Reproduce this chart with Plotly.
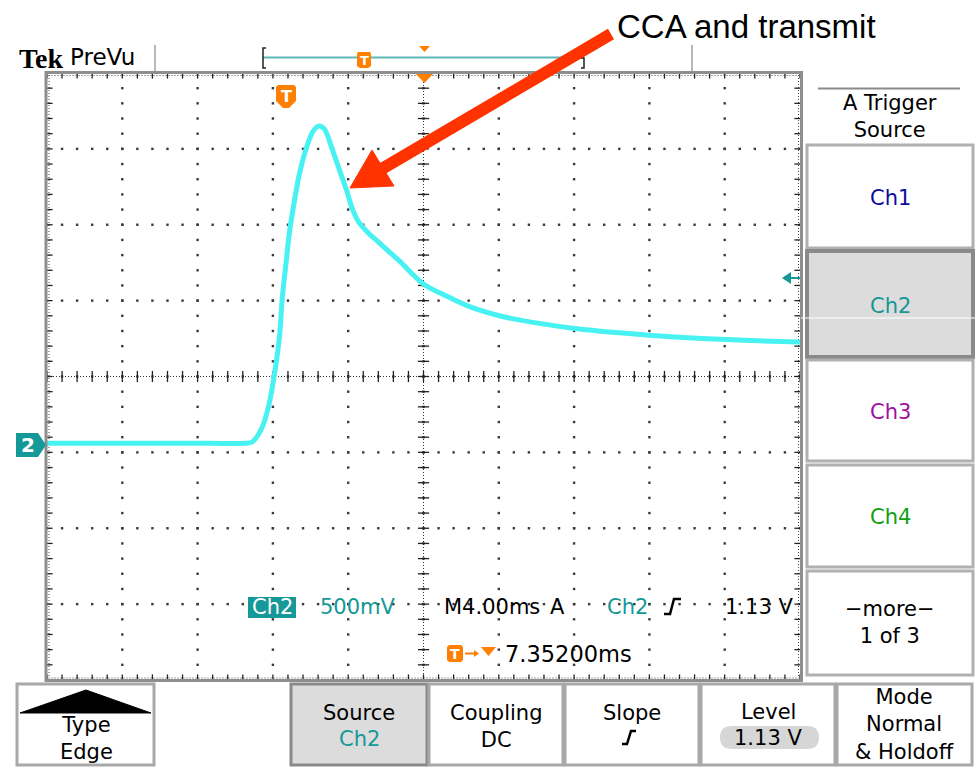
import plotly.graph_objects as go

W, H = 978, 770

# ---- Scope settings ----
TIME_PER_DIV = 4.0      # ms / div  (M4.00ms)
VOLTS_PER_DIV = 0.5     # V / div   (Ch2 500mV)
H_DIVS = 10
V_DIVS = 8
TRIG_DELAY_MS = 7.352   # trigger -> screen centre
CH2_OFFSET_DIV = -0.9   # ground marker position
TRIG_LEVEL_V = 1.13

# ---- Ch2 waveform: time after trigger (ms) and volts ----
time_ms = [-12.65, -8.0, -4.0, -2.2, -1.73, -1.20, -0.83, -0.56, -0.30, -0.14, 0.07,
           0.23, 0.50, 0.77, 1.14, 1.46, 1.77, 2.09, 2.47, 2.89, 3.26, 3.53, 3.85,
           4.38, 5.01, 6.08, 7.35, 8.57, 9.80, 11.39, 13.51, 15.37, 17.39, 19.36,
           21.64, 23.45, 25.20, 27.35]
ch2_volts = [0.01, 0.01, 0.01, 0.01, 0.02, 0.12, 0.28, 0.47, 0.71, 0.98, 1.22,
             1.40, 1.61, 1.79, 1.96, 2.06, 2.10, 2.08, 1.96, 1.81, 1.68, 1.57, 1.48,
             1.40, 1.33, 1.21, 1.06, 0.98, 0.91, 0.85, 0.80, 0.767, 0.742, 0.722,
             0.704, 0.693, 0.685, 0.678]

# ---- Texts ----
header_brand = "Tek"
header_mode = "PreVu"
annotation_text = "CCA and transmit"
menu_title = "A Trigger<br>Source"
menu_items = ["Ch1", "Ch2", "Ch3", "Ch4", "−more−<br>1 of 3"]
menu_colors = ["#0A0AA0", "#149696", "#A010A0", "#10A010", "#000000"]
bottom_buttons = ["Type<br>Edge", "Source", "Coupling<br>DC", "Slope", "Level", "Mode<br>Normal<br>& Holdoff"]

TEAL = "#149898"
ORANGE = "#FF7F00"
TRACE = "#48F2F2"
FONT = "DejaVu Sans"


def X(p):
    return p / W


def Y(p):
    return 1 - p / H


def path(points, close=True):
    s = "M " + " L ".join(f"{X(a):.5f},{Y(b):.5f}" for a, b in points)
    return s + (" Z" if close else "")


# axis ranges from scope settings
x0 = TRIG_DELAY_MS - H_DIVS / 2 * TIME_PER_DIV
x1 = TRIG_DELAY_MS + H_DIVS / 2 * TIME_PER_DIV
vc = -CH2_OFFSET_DIV * VOLTS_PER_DIV
y0 = vc - V_DIVS / 2 * VOLTS_PER_DIV
y1 = vc + V_DIVS / 2 * VOLTS_PER_DIV
xc = TRIG_DELAY_MS

fig = go.Figure()

# graticule dots (every 1/5 division on each major line)
gx, gy = [], []
for i in range(1, H_DIVS):
    for j in range(V_DIVS * 5 + 1):
        gx.append(x0 + i * TIME_PER_DIV)
        gy.append(y0 + j * VOLTS_PER_DIV / 5)
for j in range(1, V_DIVS):
    for i in range(H_DIVS * 5 + 1):
        gx.append(x0 + i * TIME_PER_DIV / 5)
        gy.append(y0 + j * VOLTS_PER_DIV)
fig.add_trace(go.Scatter(x=gx, y=gy, mode="markers", hoverinfo="skip",
                         marker=dict(symbol="square", size=2.4, color="#3a3a3a", line=dict(width=0))))

# centre-line & edge ticks
hx = [x0 + i * TIME_PER_DIV / 5 for i in range(H_DIVS * 5 + 1)]
vy = [y0 + j * VOLTS_PER_DIV / 5 for j in range(V_DIVS * 5 + 1)]
fig.add_trace(go.Scatter(x=hx + hx + hx, y=[vc] * len(hx) + [y1] * len(hx) + [y0] * len(hx),
                         mode="markers", hoverinfo="skip",
                         marker=dict(symbol="line-ns", size=8, line=dict(width=1.3, color="#222"))))
fig.add_trace(go.Scatter(x=[xc] * len(vy) + [x0] * len(vy) + [x1] * len(vy), y=vy + vy + vy,
                         mode="markers", hoverinfo="skip",
                         marker=dict(symbol="line-ew", size=8, line=dict(width=1.3, color="#222"))))

# waveform
fig.add_trace(go.Scatter(x=time_ms, y=ch2_volts, mode="lines", hoverinfo="skip",
                         line=dict(color=TRACE, width=5, shape="spline", smoothing=0.9)))

shapes = []
# dotted centre lines and inner edge dotted lines
shapes.append(dict(type="line", xref="x", yref="y", x0=x0, x1=x1, y0=vc, y1=vc, layer="below",
                   line=dict(color="#333", width=1, dash="1px,2px")))
shapes.append(dict(type="line", xref="x", yref="y", x0=xc, x1=xc, y0=y0, y1=y1, layer="below",
                   line=dict(color="#333", width=1, dash="1px,2px")))
for (a, b, c, d) in [(48.5, 75.5, 799, 75.5), (48.5, 678, 799, 678), (49, 75, 49, 678), (798.5, 75, 798.5, 678)]:
    shapes.append(dict(type="line", xref="paper", yref="paper", x0=X(a), y0=Y(b), x1=X(c), y1=Y(d),
                       layer="below", line=dict(color="#444", width=1, dash="1px,2px")))
# graticule frame
shapes.append(dict(type="rect", xref="paper", yref="paper", x0=X(46), x1=X(801.5), y0=Y(72.5), y1=Y(680.5),
                   layer="above", line=dict(color="#8E8E8E", width=3)))

# header separators and record view bar
for sx in (155, 692):
    shapes.append(dict(type="line", xref="paper", yref="paper", x0=X(sx), x1=X(sx), y0=Y(45), y1=Y(71),
                       line=dict(color="#A0A0A0", width=1.5)))
shapes.append(dict(type="line", xref="paper", yref="paper", x0=X(263), x1=X(584), y0=Y(57.5), y1=Y(57.5),
                   line=dict(color="#5CB8B8", width=2)))
shapes.append(dict(type="path", xref="paper", yref="paper", path=path([(266, 48), (263, 48), (263, 68), (266, 68)], close=False),
                   line=dict(color="#222", width=1.5)))
shapes.append(dict(type="path", xref="paper", yref="paper", path=path([(581, 58), (584, 58), (584, 68), (581, 68)], close=False),
                   line=dict(color="#222", width=1.5)))
# record bar T marker
shapes.append(dict(type="path", xref="paper", yref="paper",
                   path=path([(358, 52), (370, 52), (371, 54), (371, 66), (368, 68), (360, 68), (357, 66), (357, 54)]),
                   fillcolor=ORANGE, line=dict(width=0)))
# orange triangles (header and graticule top)
shapes.append(dict(type="path", xref="paper", yref="paper", path=path([(419, 46), (430, 46), (424.5, 52)]),
                   fillcolor=ORANGE, line=dict(width=0)))
shapes.append(dict(type="path", xref="paper", yref="paper", path=path([(416, 74), (433, 74), (424.5, 83)]),
                   fillcolor=ORANGE, line=dict(width=0)))
# trigger position T marker
shapes.append(dict(type="path", xref="paper", yref="paper",
                   path=path([(278, 85), (294, 85), (296, 87), (296, 101), (289, 108), (283, 108), (276, 101), (276, 87)]),
                   fillcolor=ORANGE, line=dict(width=0)))
# ground marker "2"
shapes.append(dict(type="path", xref="paper", yref="paper",
                   path=path([(16, 433), (38, 433), (46, 445), (38, 457), (16, 457)]),
                   fillcolor=TEAL, line=dict(width=0)))
# trigger level arrow (right)
shapes.append(dict(type="path", xref="paper", yref="paper", path=path([(782, 278), (791, 272), (791, 284)]),
                   fillcolor=TEAL, line=dict(width=0)))
shapes.append(dict(type="line", xref="paper", yref="paper", x0=X(788), x1=X(800), y0=Y(278), y1=Y(278),
                   line=dict(color=TEAL, width=2)))
# Ch2 readout box
shapes.append(dict(type="rect", xref="paper", yref="paper", x0=X(248), x1=X(296), y0=Y(597), y1=Y(618),
                   fillcolor=TEAL, line=dict(width=0)))
# slope glyph in readout
shapes.append(dict(type="path", xref="paper", yref="paper",
                   path=path([(664, 614), (670, 614), (674, 599), (681, 599)], close=False),
                   line=dict(color="#000", width=2.5)))
# second readout line: T -> triangle
shapes.append(dict(type="path", xref="paper", yref="paper",
                   path=path([(449, 645), (461, 645), (463, 647), (463, 660), (461, 662), (449, 662), (447, 660), (447, 647)]),
                   fillcolor=ORANGE, line=dict(width=0)))
shapes.append(dict(type="line", xref="paper", yref="paper", x0=X(465), x1=X(476), y0=Y(653.5), y1=Y(653.5),
                   line=dict(color=ORANGE, width=2)))
shapes.append(dict(type="path", xref="paper", yref="paper", path=path([(474, 650), (479, 653.5), (474, 657)]),
                   fillcolor=ORANGE, line=dict(width=0)))
shapes.append(dict(type="path", xref="paper", yref="paper", path=path([(481, 647), (496, 647), (488.5, 656)]),
                   fillcolor=ORANGE, line=dict(width=0)))

# right menu
shapes.append(dict(type="line", xref="paper", yref="paper", x0=X(818), x1=X(960), y0=Y(88.5), y1=Y(88.5),
                   line=dict(color="#8A8A8A", width=2)))
menu_boxes = [(145, 248), (251, 357), (360, 461), (465, 567), (571, 675)]
for k, (t, b) in enumerate(menu_boxes):
    sel = (k == 1)
    shapes.append(dict(type="rect", xref="paper", yref="paper", x0=X(807), x1=X(973), y0=Y(t), y1=Y(b),
                       fillcolor="#DCDCDC" if sel else "#FFFFFF",
                       line=dict(color="#8A8A8A" if sel else "#B0B0B0", width=4 if sel else 3)))
shapes.append(dict(type="line", xref="paper", yref="paper", x0=X(801), x1=X(977), y0=Y(318), y1=Y(318),
                   line=dict(color="#FFFFFF", width=1)))

# bottom buttons
bottom_boxes = [(17, 154), (291, 427), (429, 563), (565, 699), (701, 835), (837, 972)]
for k, (l, r) in enumerate(bottom_boxes):
    sel = (k == 1)
    shapes.append(dict(type="rect", xref="paper", yref="paper", x0=X(l), x1=X(r), y0=Y(684), y1=Y(765),
                       fillcolor="#DCDCDC" if sel else "#FFFFFF",
                       line=dict(color="#8A8A8A" if sel else "#A8A8A8", width=3)))
# Type button roof
shapes.append(dict(type="path", xref="paper", yref="paper", path=path([(20, 713), (86, 690), (151, 713)]),
                   fillcolor="#000", line=dict(color="#000", width=1)))
# Slope glyph on button
shapes.append(dict(type="path", xref="paper", yref="paper",
                   path=path([(622, 744), (627, 744), (631, 731), (636, 731)], close=False),
                   line=dict(color="#000", width=2.5)))
# Level pill
pl, pr, pt, pb = 721, 818, 726, 749
shapes.append(dict(type="path", xref="paper", yref="paper",
                   path=(f"M {X(pl+11):.5f},{Y(pt):.5f} L {X(pr-11):.5f},{Y(pt):.5f} "
                         f"Q {X(pr+1):.5f},{Y(pt):.5f} {X(pr+1):.5f},{Y((pt+pb)/2):.5f} "
                         f"Q {X(pr+1):.5f},{Y(pb):.5f} {X(pr-11):.5f},{Y(pb):.5f} "
                         f"L {X(pl+11):.5f},{Y(pb):.5f} "
                         f"Q {X(pl-1):.5f},{Y(pb):.5f} {X(pl-1):.5f},{Y((pt+pb)/2):.5f} "
                         f"Q {X(pl-1):.5f},{Y(pt):.5f} {X(pl+11):.5f},{Y(pt):.5f} Z"),
                   fillcolor="#D6D6D6", line=dict(width=0)))

# red annotation arrow
shapes.append(dict(type="line", xref="paper", yref="paper", x0=X(380), y0=Y(170), x1=X(611), y1=Y(34),
                   line=dict(color="#FF3300", width=12)))
shapes.append(dict(type="path", xref="paper", yref="paper", path=path([(350, 188), (372, 150), (394, 186)]),
                   fillcolor="#FF3300", line=dict(color="#FF3300", width=1)))

ann = []


def txt(x, y, s, size=22, color="#000", family=FONT, xanchor="center", **kw):
    ann.append(dict(x=X(x), y=Y(y), xref="paper", yref="paper", text=s, showarrow=False,
                    xanchor=xanchor, yanchor="middle", font=dict(family=family, size=size, color=color), **kw))


txt(17, 58, f"<b>{header_brand}</b>", size=28, family="Liberation Serif", xanchor="left")
txt(68, 57, header_mode, size=23, xanchor="left")
txt(615, 27, annotation_text, size=33, family="Liberation Sans", xanchor="left")
txt(364, 60, "<b>T</b>", size=13, color="#FFF")
txt(286, 96, "<b>T</b>", size=16, color="#FFF")
txt(455, 654, "<b>T</b>", size=14, color="#FFF")
txt(28, 445, "<b>2</b>", size=20, color="#FFF")

# readouts
txt(272, 607, "Ch2", size=21, color="#FFF")
txt(358, 607, "500mV", size=21, color=TEAL)
txt(492, 607, "M4.00ms", size=21)
txt(557, 607, "A", size=21)
txt(627, 607, "Ch2", size=21, color=TEAL)
txt(795, 607, f"{TRIG_LEVEL_V:.2f} V", size=21, xanchor="right")
txt(568, 654, f"{TRIG_DELAY_MS:.5f}ms", size=22.5)

# right menu text
txt(890, 116, menu_title, size=21)
centers = [198, 306, 412, 517, 622]
for k, (s, c) in enumerate(zip(menu_items, menu_colors)):
    txt(890, centers[k], s, size=21, color=c)

# bottom button text
txt(86, 738, bottom_buttons[0], size=21)
txt(359, 713, bottom_buttons[1], size=21)
txt(359, 739, "Ch2", size=21, color=TEAL)
txt(496, 726, bottom_buttons[2], size=21)
txt(632, 713, bottom_buttons[3], size=21)
txt(768, 712, bottom_buttons[4], size=21)
txt(768, 738, f"{TRIG_LEVEL_V:.2f} V", size=21)
txt(904, 724, bottom_buttons[5], size=21)

fig.update_layout(
    width=W, height=H, margin=dict(l=0, r=0, t=0, b=0),
    paper_bgcolor="#FFFFFF", plot_bgcolor="#FFFFFF", showlegend=False,
    xaxis=dict(domain=[X(47), X(800)], range=[x0, x1], showgrid=False, zeroline=False,
               showticklabels=False, ticks="", showline=False, fixedrange=True),
    yaxis=dict(domain=[Y(680), Y(73)], range=[y0, y1], showgrid=False, zeroline=False,
               showticklabels=False, ticks="", showline=False, fixedrange=True),
    shapes=shapes, annotations=ann,
)

# the figure fills the whole 978x770 window: drop the default page margin
fig.write_html("out.html", config={"displayModeBar": False},
               post_script="document.body.style.margin='0px';document.body.style.overflow='hidden';")
